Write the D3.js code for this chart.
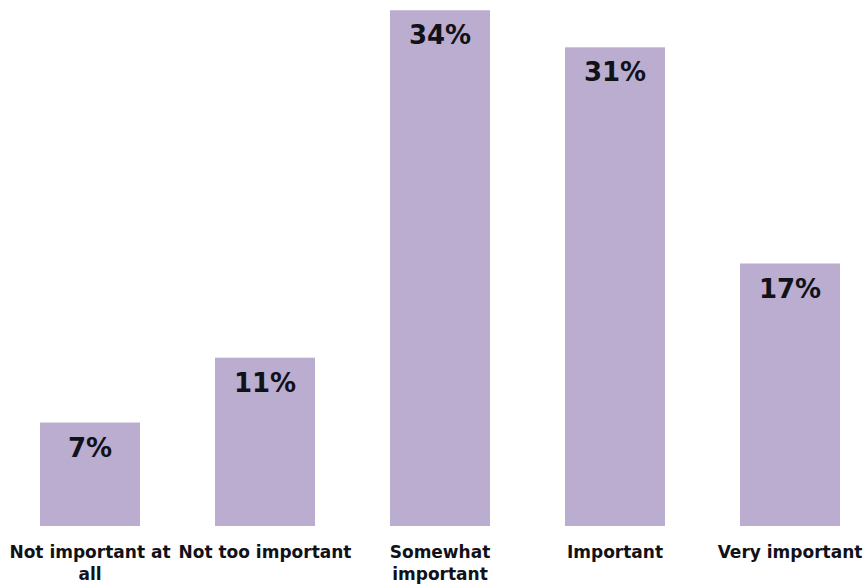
<!DOCTYPE html>
<html>
<head>
<meta charset="utf-8">
<script src="https://cdn.jsdelivr.net/npm/d3@7"></script>
<style>
  body { margin: 0; background: #fff; }
  text { font-family: "DejaVu Sans", Verdana, sans-serif; font-weight: bold; fill: #111118; }
</style>
</head>
<body>
<div class="d3-container"></div>
<script>
const w = 864
const h = 584

// data
const categories = ['Not important at all', 'Not too important', 'Somewhat important', 'Important', 'Very important']
const values = [6.7, 10.9, 33.4, 31.0, 17.0]
const labels = ['7%', '11%', '34%', '31%', '17%']
// line breaks for the category labels
const catLines = [['Not important at', 'all'], ['Not too important'], ['Somewhat', 'important'], ['Important'], ['Very important']]

const svg = d3.select('.d3-container')
    .append('svg')
    .attr('width', w)
    .attr('height', h)

const x = d3.scaleBand()
    .domain(categories)
    .range([40, 840])
    .paddingInner(75 / 175)
    .paddingOuter(0)

const y = d3.scaleLinear()
    .domain([0, 34])
    .range([526, 1])

svg.append('g')
    .selectAll('rect')
    .data(values)
    .enter()
    .append('rect')
    .attr('x', (d, i) => x(categories[i]))
    .attr('y', d => y(d))
    .attr('width', x.bandwidth())
    .attr('height', d => y(0) - y(d))
    .attr('fill', '#baadd0')

svg.append('g')
    .selectAll('text')
    .data(values)
    .enter()
    .append('text')
    .attr('x', (d, i) => x(categories[i]) + x.bandwidth() / 2)
    .attr('y', d => y(d) + 34)
    .attr('text-anchor', 'middle')
    .style('font-size', '26px')
    .text((d, i) => labels[i])

const cats = svg.append('g')
    .selectAll('text')
    .data(categories)
    .enter()
    .append('text')
    .attr('text-anchor', 'middle')
    .attr('x', d => x(d) + x.bandwidth() / 2)
    .attr('y', 558)
    .style('font-size', '17px')

cats.selectAll('tspan')
    .data((d, i) => catLines[i])
    .enter()
    .append('tspan')
    .attr('x', function () { return d3.select(this.parentNode).attr('x') })
    .attr('dy', (d, i) => i === 0 ? 0 : 22)
    .text(d => d)
</script>
</body>
</html>
